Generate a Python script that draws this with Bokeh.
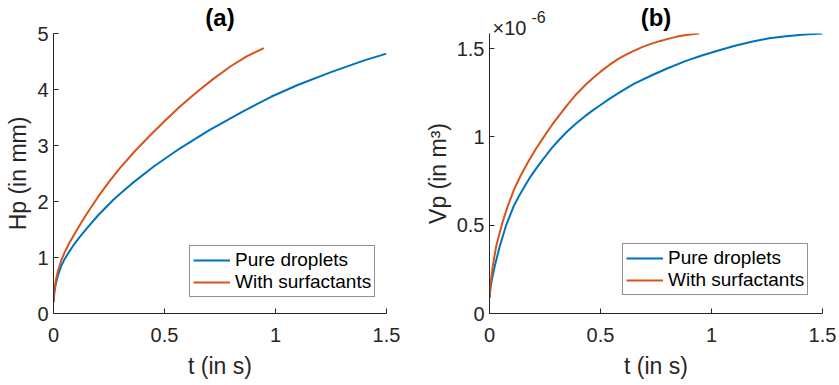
from bokeh.plotting import figure
from bokeh.layouts import row
from bokeh.models import FixedTicker, Legend, LegendItem, Range1d, Title
from bokeh.embed import file_html
from bokeh.resources import INLINE

# ---- data -------------------------------------------------------------
series_names = ["Pure droplets", "With surfactants"]
x_ticks = [0, 0.5, 1, 1.5]
hp_ticks = [0, 1, 2, 3, 4, 5]
vp_ticks = [0, 0.5, 1, 1.5]

# (a) height Hp (mm) against time t (s)
t_hp_pure = [0, 0.004, 0.01, 0.02, 0.035, 0.05, 0.07, 0.09, 0.115, 0.15,
             0.2, 0.27, 0.3, 0.35, 0.45, 0.57, 0.7, 0.85, 0.98, 1.1, 1.25,
             1.4, 1.5]
hp_pure = [0.20, 0.38, 0.52, 0.68, 0.85, 0.97, 1.10, 1.22, 1.35, 1.52,
           1.75, 2.03, 2.14, 2.31, 2.62, 2.95, 3.27, 3.60, 3.87, 4.08, 4.31,
           4.52, 4.64]
t_hp_surf = [0, 0.004, 0.01, 0.02, 0.035, 0.05, 0.07, 0.09, 0.12, 0.15,
             0.18, 0.211, 0.25, 0.3, 0.36, 0.43, 0.504, 0.571, 0.65, 0.72,
             0.8, 0.87, 0.947]
hp_surf = [0.20, 0.42, 0.58, 0.76, 0.95, 1.09, 1.25, 1.39, 1.59, 1.78,
           1.96, 2.14, 2.35, 2.60, 2.87, 3.16, 3.45, 3.70, 3.97, 4.19,
           4.42, 4.59, 4.74]

# (b) volume Vp (x1e-6 m^3) against time t (s)
t_vp_pure = [0, 0.005, 0.012, 0.024, 0.045, 0.075, 0.11, 0.135, 0.163,
             0.185, 0.21, 0.245, 0.283, 0.315, 0.35, 0.39, 0.433, 0.465, 0.5,
             0.54, 0.584, 0.65, 0.734, 0.8, 0.885, 0.96, 1.035, 1.11, 1.186,
             1.26, 1.336, 1.42, 1.5]
vp_pure = [0.09, 0.15, 0.20, 0.27, 0.375, 0.50, 0.61, 0.67, 0.73,
           0.775, 0.82, 0.88, 0.94, 0.985, 1.03, 1.075, 1.12, 1.15, 1.18,
           1.215, 1.25, 1.30, 1.35, 1.387, 1.43, 1.462, 1.49, 1.517, 1.54,
           1.558, 1.57, 1.58, 1.585]
t_vp_surf = [0, 0.005, 0.015, 0.03, 0.055, 0.08, 0.11, 0.14, 0.175, 0.208,
             0.25, 0.283, 0.35, 0.39, 0.433, 0.465, 0.5, 0.54, 0.584, 0.62,
             0.65, 0.69, 0.734, 0.77, 0.8, 0.84, 0.885, 0.915, 0.945]
vp_surf = [0.09, 0.17, 0.27, 0.38, 0.50, 0.60, 0.70, 0.78, 0.86, 0.93,
           1.01, 1.07, 1.18, 1.24, 1.295, 1.332, 1.369, 1.407, 1.444, 1.468,
           1.487, 1.509, 1.529, 1.543, 1.553, 1.566, 1.576, 1.581, 1.585]

BLUE = "#0072BD"
ORANGE = "#D95319"
INK = "#262626"
FONT = "Liberation Sans"


def make_panel(ylabel, y_end, y_ticks, curves, left_border, right_border,
               legend_xy):
    p = figure(frame_width=333, frame_height=280,
               x_range=Range1d(0, 1.5), y_range=Range1d(0, y_end),
               output_backend="svg", toolbar_location=None, title=None,
               min_border_left=left_border, min_border_right=right_border,
               min_border_top=33, min_border_bottom=72,
               background_fill_color="white", border_fill_color="white",
               outline_line_color=None)

    p.xgrid.visible = False
    p.ygrid.visible = False

    p.xaxis.ticker = FixedTicker(ticks=x_ticks)
    p.yaxis.ticker = FixedTicker(ticks=y_ticks)
    p.xaxis.major_label_overrides = {v: f"{v:g}" for v in x_ticks}
    p.yaxis.major_label_overrides = {v: f"{v:g}" for v in y_ticks}
    p.xaxis.axis_label = "t (in s)"
    p.yaxis.axis_label = ylabel

    for ax in (p.xaxis[0], p.yaxis[0]):
        ax.axis_line_color = INK
        ax.axis_line_width = 1
        ax.major_tick_line_color = INK
        ax.major_tick_in = 5
        ax.major_tick_out = 0
        ax.minor_tick_line_color = None
        ax.major_label_text_font = FONT
        ax.major_label_text_font_size = "20px"
        ax.major_label_text_color = INK
        ax.axis_label_text_font = FONT
        ax.axis_label_text_font_size = "23px"
        ax.axis_label_text_font_style = "normal"
        ax.axis_label_text_color = INK
    p.xaxis.major_label_standoff = 14
    p.xaxis.axis_label_standoff = 8
    p.yaxis.major_label_standoff = 5
    p.yaxis.axis_label_standoff = 3

    items = []
    for name, xs, ys, color in curves:
        r = p.line(xs, ys, line_color=color, line_width=2)
        items.append(LegendItem(label=name, renderers=[r]))

    legend = Legend(items=items, location=legend_xy,
                    border_line_color=INK, border_line_width=1,
                    background_fill_color="white", background_fill_alpha=1,
                    label_text_font=FONT, label_text_font_size="19px",
                    label_text_color="black",
                    glyph_width=37, glyph_height=20, label_height=20,
                    label_standoff=5, spacing=-2, padding=3, margin=0)
    p.add_layout(legend, "center")
    return p


def panel_title(text, standoff, valign="bottom"):
    return Title(text=text, align="center", vertical_align=valign,
                 standoff=standoff, text_font=FONT, text_font_size="24px",
                 text_font_style="bold", text_color="black")


pa = make_panel("Hp (in mm)", 5, hp_ticks,
                [(series_names[0], t_hp_pure, hp_pure, BLUE),
                 (series_names[1], t_hp_surf, hp_surf, ORANGE)],
                53, 33, (136, 16))
pa.add_layout(panel_title("(a)", 2, "top"), "above")

pb = make_panel("Vp (in m³)", 1.585, vp_ticks,
                [(series_names[0], t_vp_pure, vp_pure, BLUE),
                 (series_names[1], t_vp_surf, vp_surf, ORANGE)],
                70, 17, (133, 18))
# exponent of the volume axis, then the panel title, stacked above the frame
pb.add_layout(Title(text="×10", align="left", offset=3, vertical_align="top",
                    standoff=-14, text_font=FONT, text_font_size="20px",
                    text_font_style="normal", text_color=INK), "above")
pb.add_layout(Title(text="-6", align="left", offset=42,
                    vertical_align="bottom", standoff=2, text_font=FONT,
                    text_font_size="16px", text_font_style="normal",
                    text_color=INK), "above")
pb.add_layout(panel_title("(b)", -47), "above")

layout = row(pa, pb, spacing=0)
open("out.html", "w").write(file_html(layout, INLINE))
